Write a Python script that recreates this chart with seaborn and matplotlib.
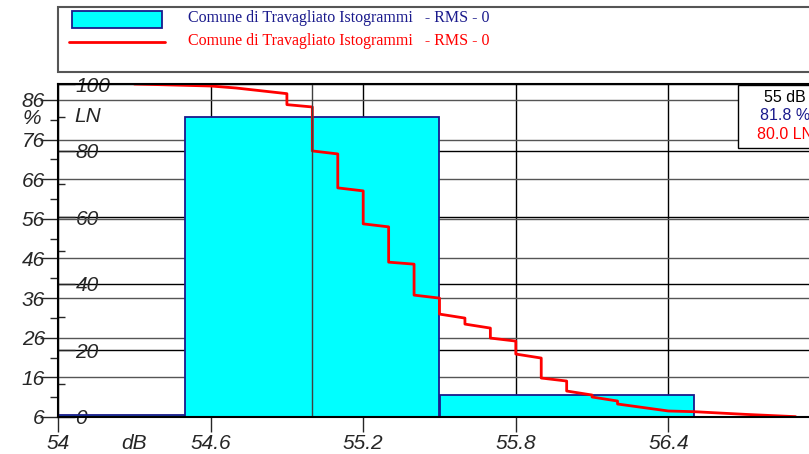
import matplotlib
matplotlib.use('Agg')
import matplotlib.pyplot as plt
import seaborn as sns
from matplotlib.patches import Rectangle
from matplotlib.lines import Line2D

# histogram classes (dB) and share of time (%)
bin_edges = [54.0, 54.5, 55.5, 56.5]
bin_mid = [54.25, 55.0, 56.0]
bar_pct = [6.6, 81.8, 11.6]

# cumulative LN curve (dB, LN %)
ln_db = [54.3, 54.6, 54.7, 54.9, 54.9, 55.0, 55.0, 55.1, 55.1, 55.2, 55.2,
         55.3, 55.3, 55.4, 55.4, 55.5, 55.5, 55.6, 55.6, 55.7, 55.7, 55.8,
         55.8, 55.9, 55.9, 56.0, 56.0, 56.1, 56.1, 56.2, 56.2, 56.4, 56.5,
         56.7, 56.9]
ln_val = [100, 99.4, 98.8, 97.1, 93.8, 93.1, 79.9, 79.0, 68.8, 67.9, 58.0,
          57.1, 46.5, 45.9, 36.6, 35.7, 30.9, 29.7, 27.9, 26.7, 23.7, 22.8,
          18.9, 17.7, 11.7, 10.8, 7.8, 6.6, 6.0, 4.8, 3.9, 1.8, 1.6,
          0.8, 0.1]

x_ticks = [54, 54.6, 55.2, 55.8, 56.4]
x_labels = ['54', '54.6', '55.2', '55.8', '56.4']
pct_ticks = [6, 16, 26, 36, 46, 56, 66, 76, 86]
pct_minor = [11, 21, 31, 41, 51, 61, 71, 81]
ln_ticks = [0, 20, 40, 60, 80, 100]
ln_minor = [10, 30, 50, 70, 90]

legend_label = 'Comune di Travagliato Istogrammi   - RMS - 0'
cursor_db = 55.0
info_lines = ['55 dB', '81.8 %', '80.0 LN']

navy = '#1a1a8c'

sns.set_style('white')
plt.rcParams['font.family'] = ['Liberation Sans', 'DejaVu Sans']
plt.rcParams['font.style'] = 'italic'

W, H = 809, 454
fig = plt.figure(figsize=(W / 100, H / 100), dpi=100)
rect = [58 / W, 1 - 417 / H, (821 - 58) / W, (417 - 84) / H]

# bottom layer: LN axis + x grid
ax_ln = fig.add_axes(rect)
ax_ln.set_xlim(54, 57)
ax_ln.set_ylim(0, 100)
ax_ln.set_xticks(x_ticks)
ax_ln.set_xticklabels(x_labels)
ax_ln.set_yticks(ln_ticks)
ax_ln.set_yticks(ln_minor, minor=True)
ax_ln.grid(True, axis='both', which='major', color='black', lw=1)
ax_ln.tick_params(axis='x', direction='out', length=11, width=1, pad=1,
                  labelsize=15, bottom=True)
ax_ln.tick_params(axis='y', which='major', direction='in', length=12,
                  width=1, pad=-12.5, labelsize=15, left=True)
ax_ln.tick_params(axis='y', which='minor', direction='in', length=5,
                  width=1, left=True)
for lab in ax_ln.get_yticklabels():
    lab.set_ha('left')
for s in ax_ln.spines.values():
    s.set_visible(False)

# middle layer: % axis with histogram
ax_pct = ax_ln.twinx()
ax_pct.yaxis.tick_left()
ax_pct.set_axisbelow(True)
sns.histplot(x=bin_mid, weights=bar_pct, bins=bin_edges, ax=ax_pct,
             color='#00ffff', edgecolor=navy, linewidth=1.3, alpha=1)
ax_pct.set_ylim(6, 90)
ax_pct.set_xlim(54, 57)
ax_pct.set_ylabel('')
ax_pct.set_yticks(pct_ticks)
ax_pct.set_yticks(pct_minor, minor=True)
ax_pct.grid(True, axis='y', which='major', color='#555555', lw=1)
ax_pct.tick_params(axis='y', which='major', direction='out', length=13,
                   width=1, pad=-3.6, labelsize=15, left=True, right=False)
ax_pct.tick_params(axis='y', which='minor', direction='out', length=6,
                   width=1, left=True, right=False)
for s in ax_pct.spines.values():
    s.set_visible(False)

# top layer: LN curve, cursor and frame
ax_top = ax_ln.twinx()
sns.lineplot(x=ln_db, y=ln_val, sort=False, estimator=None, ax=ax_top,
             color='red', lw=2)
ax_top.set_xlim(54, 57)
ax_top.set_ylim(0, 100)
ax_top.axvline(cursor_db, color='#404040', lw=1)
ax_top.set_yticks([])
ax_top.set_ylabel('')
for s in ax_top.spines.values():
    s.set_visible(True)
    s.set_color('black')
    s.set_linewidth(1.5)

ax_ln.annotate('dB', xy=(54.3, 0), xycoords=('data', 'axes fraction'),
               xytext=(0, -19), textcoords='offset points',
               ha='center', va='center', fontsize=15)
fig.text(32 / W, 1 - 119 / H, '%', ha='center', va='center', fontsize=15)
fig.text(88 / W, 1 - 117 / H, 'LN', ha='center', va='center', fontsize=15)

# legend box
ft = fig.transFigure
fig.patches.append(Rectangle((58 / W, 1 - 72 / H), (845 - 58) / W, 65 / H,
                             transform=ft, facecolor='white',
                             edgecolor='#555555', lw=1.5, zorder=5))
fig.patches.append(Rectangle((72 / W, 1 - 28 / H), 90 / W, 17 / H,
                             transform=ft, facecolor='#00ffff',
                             edgecolor=navy, lw=1.3, zorder=6))
fig.lines.append(Line2D([69 / W, 165 / W], [1 - 42 / H, 1 - 42 / H],
                        transform=ft, color='red', lw=2, zorder=6))
fig.text(188 / W, 1 - 18 / H, legend_label, color=navy, fontsize=11.5,
         family='Liberation Serif', style='normal', va='center', zorder=7)
fig.text(188 / W, 1 - 41 / H, legend_label, color='red', fontsize=11.5,
         family='Liberation Serif', style='normal', va='center', zorder=7)

# cursor info box
fig.patches.append(Rectangle((738 / W, 1 - 148 / H), 100 / W, 63 / H,
                             transform=ft, facecolor='white',
                             edgecolor='black', lw=1, zorder=5))
for txt, col, yy in zip(info_lines, ['black', navy, 'red'], [97, 116, 134]):
    fig.text(785 / W, 1 - yy / H, txt, color=col, fontsize=11.5,
             style='normal', ha='center', va='center', zorder=7)

plt.savefig('out.png', dpi=100)
